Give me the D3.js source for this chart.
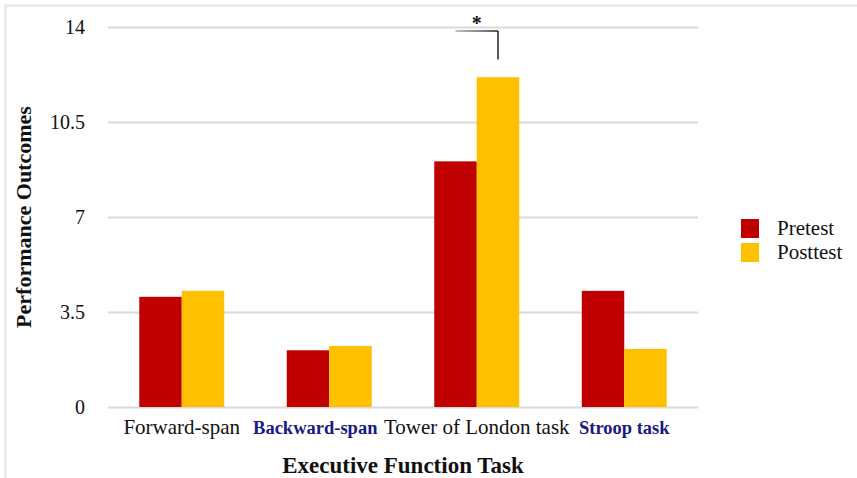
<!DOCTYPE html>
<html>
<head>
<meta charset="utf-8">
<script src="https://cdn.jsdelivr.net/npm/d3@7"></script>
<style>
  body { margin: 0; background: #fff; }
  svg { display: block; font-family: "Liberation Serif", "Times New Roman", serif; }
</style>
</head>
<body>
<div id="chart"></div>
<script>
// data
const tasks = ['Forward-span', 'Backward-span', 'Tower of London task', 'Stroop task'];
const seriesNames = ['Pretest', 'Posttest'];
const pretest = [4.06, 2.09, 9.05, 4.28];
const posttest = [4.28, 2.25, 12.15, 2.14];
const yTicks = [0, 3.5, 7, 10.5, 14];

const colors = { Pretest: '#c00000', Posttest: '#ffc000' };
const navyLabels = ['Backward-span', 'Stroop task'];

const W = 857, H = 478;
const margin = { top: 27, right: 159, bottom: 71, left: 108 };
const width = W - margin.left - margin.right;
const height = H - margin.top - margin.bottom;

const svg = d3.select('#chart').append('svg')
    .attr('width', W)
    .attr('height', H);

// light frame around the picture
svg.append('path')
    .attr('d', `M5.5,${H} V5.5 H${W}`)
    .attr('fill', 'none')
    .attr('stroke', '#e4e4e4')
    .attr('stroke-width', 2);

const g = svg.append('g')
    .attr('transform', `translate(${margin.left},${margin.top})`);

const x = d3.scaleBand()
    .domain(tasks)
    .range([0, width])
    .paddingInner(0.424)
    .paddingOuter(0.212);

const xSub = d3.scaleBand()
    .domain(seriesNames)
    .range([0, x.bandwidth()]);

const y = d3.scaleLinear()
    .domain([0, 14])
    .range([height, 0]);

// gridlines
g.append('g')
    .call(d3.axisLeft(y).tickValues(yTicks).tickSize(-width).tickFormat(''))
    .call(a => a.select('.domain').remove())
    .selectAll('line')
    .attr('stroke', '#d9d9d9')
    .attr('stroke-width', 2);

// y tick labels
g.append('g')
    .call(d3.axisLeft(y).tickValues(yTicks).tickSize(0).tickPadding(23).tickFormat(d3.format('')))
    .call(a => a.select('.domain').remove())
    .selectAll('text')
    .attr('font-family', '"Liberation Serif", serif')
    .attr('font-size', 20)
    .attr('fill', '#111');

const rows = tasks.map((t, i) => ({ task: t, Pretest: pretest[i], Posttest: posttest[i] }));

const groups = g.selectAll('.grp')
    .data(rows)
    .enter()
    .append('g')
    .attr('transform', d => `translate(${x(d.task)},0)`);

groups.selectAll('rect')
    .data(d => seriesNames.map(s => ({ key: s, value: d[s] })))
    .enter()
    .append('rect')
    .attr('x', d => xSub(d.key))
    .attr('y', d => y(d.value))
    .attr('width', xSub.bandwidth())
    .attr('height', d => height - y(d.value))
    .attr('fill', d => colors[d.key]);

// x axis labels
const xAxis = g.append('g')
    .attr('transform', `translate(0,${height})`)
    .call(d3.axisBottom(x).tickSize(0).tickPadding(12));
xAxis.select('.domain').remove();
xAxis.selectAll('text')
    .attr('font-family', '"Liberation Serif", serif')
    .attr('font-size', d => navyLabels.includes(d) ? 18.5 : 21)
    .attr('dy', d => navyLabels.includes(d) ? '0.8em' : '0.71em')
    .attr('fill', d => navyLabels.includes(d) ? '#1a1a80' : '#111')
    .attr('font-weight', d => navyLabels.includes(d) ? 'bold' : 'normal')
    .attr('dx', d => d === 'Backward-span' ? -14 : 0);

// significance bracket for Tower of London
const tol = 'Tower of London task';
const bx1 = x(tol) + xSub('Pretest') + xSub.bandwidth() / 2;
const bx2 = x(tol) + xSub('Posttest') + xSub.bandwidth() / 2;
const grad = svg.append('defs').append('linearGradient')
    .attr('id', 'brk')
    .attr('gradientUnits', 'userSpaceOnUse')
    .attr('x1', bx1).attr('x2', bx2);
grad.append('stop').attr('offset', 0).attr('stop-color', '#aaa');
grad.append('stop').attr('offset', 1).attr('stop-color', '#222');
g.append('line')
    .attr('x1', bx1).attr('x2', bx2)
    .attr('y1', y(13.85)).attr('y2', y(13.85))
    .attr('stroke', 'url(#brk)')
    .attr('stroke-width', 1.5);
g.append('line')
    .attr('x1', bx2).attr('x2', bx2)
    .attr('y1', y(13.85)).attr('y2', y(12.8))
    .attr('stroke', '#222')
    .attr('stroke-width', 1.5);
g.append('text')
    .attr('x', (bx1 + bx2) / 2)
    .attr('y', y(13.85) - 1)
    .attr('text-anchor', 'middle')
    .attr('font-size', 20)
    .attr('font-weight', 'bold')
    .attr('fill', '#111')
    .text('*');

// axis titles
svg.append('text')
    .attr('x', margin.left + width / 2)
    .attr('y', 473)
    .attr('text-anchor', 'middle')
    .attr('font-size', 23)
    .attr('font-weight', 'bold')
    .attr('fill', '#111')
    .text('Executive Function Task');

svg.append('text')
    .attr('transform', `translate(31,${margin.top + height / 2}) rotate(-90)`)
    .attr('text-anchor', 'middle')
    .attr('font-size', 22)
    .attr('font-weight', 'bold')
    .attr('fill', '#111')
    .text('Performance Outcomes');

// legend
const legend = svg.append('g')
    .attr('transform', 'translate(741,219)');
const li = legend.selectAll('g')
    .data(seriesNames)
    .enter()
    .append('g')
    .attr('transform', (d, i) => `translate(0,${i * 24})`);
li.append('rect')
    .attr('width', 18)
    .attr('height', 19)
    .attr('fill', d => colors[d]);
li.append('text')
    .attr('x', 36)
    .attr('y', 16)
    .attr('font-size', 21)
    .attr('fill', '#111')
    .text(d => d);
</script>
</body>
</html>
